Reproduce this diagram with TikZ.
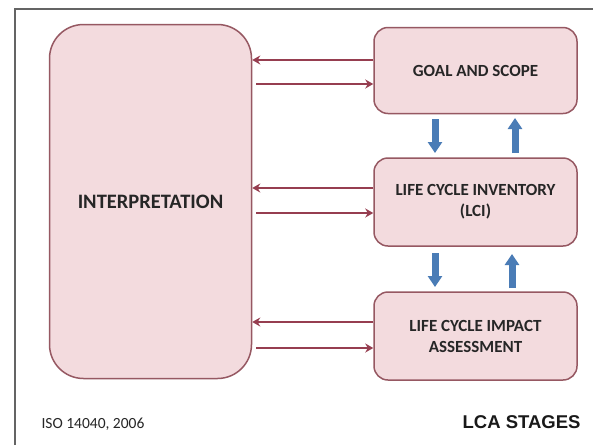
\documentclass[tikz,border=0pt]{standalone}
\usepackage{fontspec}
\setmainfont{Carlito}
\newfontfamily\arialbold{Liberation Sans}
\usetikzlibrary{arrows.meta}
\definecolor{boxfill}{RGB}{243,219,222}
\definecolor{boxline}{RGB}{150,88,98}
\definecolor{redarrow}{RGB}{150,62,80}
\definecolor{bluearrow}{RGB}{74,124,182}
\definecolor{framegray}{RGB}{100,100,100}
\tikzset{
  stagebox/.style={draw=boxline, fill=boxfill, line width=1.5pt, rounded corners=14pt, align=center, font=\fontsize{17}{21}\selectfont\bfseries, text=black!85},
  flowarrow/.style={draw=redarrow, line width=1.8pt, -{Stealth[length=8pt,width=9pt]}},
  blockarrow/.style={draw=bluearrow, line width=7pt, -{Triangle[length=11pt,width=14pt]}},
}
\begin{document}
\begin{tikzpicture}[x=1pt,y=-1pt]
\useasboundingbox (0,0) rectangle (593,445);
\fill[white] (0,0) rectangle (593,445);
% frame
\draw[framegray, line width=2pt] (15,445) -- (15,9) -- (593,9);
% boxes
\node[stagebox, rounded corners=34pt, minimum width=202pt, minimum height=354pt, font=\fontsize{20.5}{24}\selectfont\bfseries] (interp) at (150.5,201.5) {INTERPRETATION};
\node[stagebox, minimum width=203pt, minimum height=86pt] (goal) at (475.5,70.5) {GOAL AND SCOPE};
\node[stagebox, minimum width=203pt, minimum height=88pt] (lci) at (475.5,202) {LIFE CYCLE INVENTORY\\(LCI)};
\node[stagebox, minimum width=203pt, minimum height=88pt] (lcia) at (475.5,336) {LIFE CYCLE IMPACT\\ASSESSMENT};
% red arrows
\draw[flowarrow] (goal.west |- 0,60) -- (interp.east |- 0,60);
\draw[flowarrow] ([xshift=4pt]interp.east |- 0,84) -- (goal.west |- 0,84);
\draw[flowarrow] (lci.west |- 0,188) -- (interp.east |- 0,188);
\draw[flowarrow] ([xshift=4pt]interp.east |- 0,213) -- (lci.west |- 0,213);
\draw[flowarrow] (lcia.west |- 0,322) -- (interp.east |- 0,322);
\draw[flowarrow] ([xshift=4pt]interp.east |- 0,348) -- (lcia.west |- 0,348);
% blue arrows
\coordinate (d1a) at (435,119);
\coordinate (d1b) at (435,153);
\coordinate (u1a) at (515,153);
\coordinate (u1b) at (515,118);
\coordinate (d2a) at (435,253);
\coordinate (d2b) at (435,287);
\coordinate (u2a) at (512,288);
\coordinate (u2b) at (512,254);
\draw[blockarrow] (d1a) -- (d1b);
\draw[blockarrow] (u1a) -- (u1b);
\draw[blockarrow] (d2a) -- (d2b);
\draw[blockarrow] (u2a) -- (u2b);
% captions
\node[anchor=west, font=\fontsize{15.5}{18}\selectfont, text=black!85] (iso) at (38,424) {ISO 14040, 2006};
\node[anchor=east, font=\arialbold\fontsize{18.5}{21}\selectfont\bfseries, text=black!90] (lca) at (584,422) {LCA STAGES};
\end{tikzpicture}
\end{document}
